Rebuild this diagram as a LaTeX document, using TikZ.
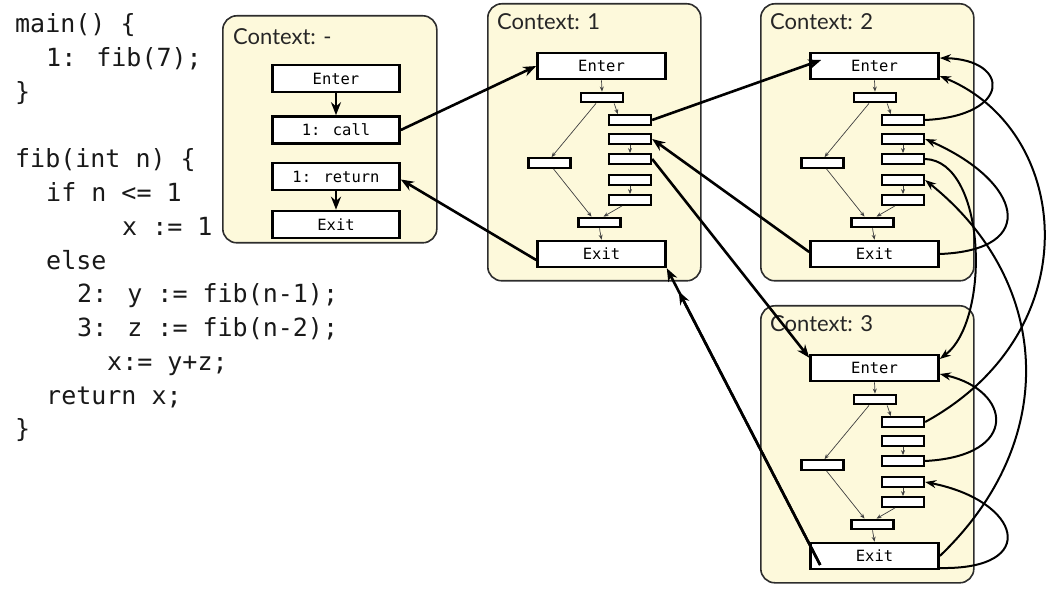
\documentclass[tikz,border=0pt]{standalone}
\usepackage{fontspec}
\newfontfamily\codefont{DejaVu Sans Mono}
\newfontfamily\titlefont{Lato}
\usetikzlibrary{arrows.meta}
\definecolor{ctxfill}{RGB}{253,249,219}
\definecolor{ctxdraw}{RGB}{45,45,45}
\tikzset{
  ctxbox/.style={draw=ctxdraw, line width=1.6pt, fill=ctxfill, rounded corners=14pt, inner sep=0, anchor=north west},
  ctxtitle/.style={anchor=west, inner sep=0, text=black!85, font=\titlefont\fontsize{22}{24}\selectfont},
  bignode/.style={draw=black, line width=2.6pt, fill=white, minimum width=128pt, minimum height=26pt, inner sep=0, font=\codefont\fontsize{15.5}{17}\selectfont},
  smallnode/.style={draw=black, line width=2.3pt, fill=white, minimum width=42pt, minimum height=9.5pt, inner sep=0},
  code/.style={anchor=base west, inner sep=0, text=black!90, font=\codefont\fontsize{25}{30}\selectfont},
  bigarrow/.style={line width=2.6pt, -{Stealth[length=13pt,width=10pt]}},
  curvearrow/.style={line width=2pt, -{Stealth[length=11pt,width=8pt]}},
  thinarrow/.style={line width=0.7pt, draw=black!75, -{Stealth[length=5pt,width=4pt]}},
}
\newcommand\fibctx[4]{%
  \begin{scope}[shift={(#2,#3)}]
    \node[ctxbox, minimum width=213pt, minimum height=277pt] (#1box) at (0,0) {};
    \node[ctxtitle] (#1title) at (10,19) {#4};
    \node[bignode] (#1enter) at (114.5,63) {Enter};
    \node[smallnode] (#1top) at (115,94.5) {};
    \node[smallnode] (#1c1) at (143,117) {};
    \node[smallnode] (#1c2) at (143,136) {};
    \node[smallnode] (#1c3) at (143,156) {};
    \node[smallnode] (#1c4) at (143,177) {};
    \node[smallnode] (#1c5) at (143,197) {};
    \node[smallnode] (#1left) at (62.5,160) {};
    \node[smallnode] (#1bot) at (112.5,219.5) {};
    \node[bignode] (#1exit) at (114.5,251) {Exit};
    \draw[thinarrow] (#1enter.south) -- (#1top.north);
    \draw[thinarrow] ([xshift=-10pt]#1top.south east) -- ([xshift=10pt]#1c1.north west);
    \draw[thinarrow] ([xshift=-6pt]#1top.south) -- ([xshift=2pt]#1left.north);
    \draw[thinarrow] ([xshift=4pt]#1left.south) -- ([xshift=-8pt]#1bot.north);
    \draw[thinarrow] (#1c2.south) -- (#1c3.north);
    \draw[thinarrow] (#1c4.south) -- (#1c5.north);
    \draw[thinarrow] ([xshift=-8pt]#1c5.south) -- ([xshift=4pt]#1bot.north);
    \draw[thinarrow] (#1bot.south) -- (#1exit.north);
  \end{scope}}
\begin{document}
\begin{tikzpicture}[x=1pt, y=-1pt]
  \useasboundingbox (0,0) rectangle (1055,593);
  % code
  \node[code] (l1) at (15,33) {main() \{};
  \node[code] (l2) at (46,66.75) {1: fib(7);};
  \node[code] (l3) at (15,100.5) {\}};
  \node[code] (l4) at (15,168) {fib(int n) \{};
  \node[code] (l5) at (46,201.75) {if n <= 1};
  \node[code] (l6) at (122,235.5) {x := 1};
  \node[code] (l7) at (46,269.25) {else};
  \node[code] (l8) at (77,303) {2: y := fib(n-1);};
  \node[code] (l9) at (77,336.75) {3: z := fib(n-2);};
  \node[code] (l10) at (107,370.5) {x:= y+z;};
  \node[code] (l11) at (46,404.25) {return x;};
  \node[code] (l12) at (15,438) {\}};
  % context -
  \node[ctxbox, minimum width=214pt, minimum height=227pt] (x0box) at (222,15) {};
  \node[ctxtitle] (x0title) at (233,37) {Context: -};
  \node[bignode, minimum width=127pt, minimum height=27pt] (x0enter) at (336,78.5) {Enter};
  \node[bignode, minimum width=127pt, minimum height=27pt] (x0call) at (336,130) {1: call};
  \node[bignode, minimum width=127pt, minimum height=27pt] (x0ret) at (336,176.5) {1: return};
  \node[bignode, minimum width=127pt, minimum height=27pt] (x0exit) at (336,224.5) {Exit};
  \draw[bigarrow] (x0enter) -- (x0call);
  \draw[bigarrow] (x0ret) -- (x0exit);
  % contexts 1..3
  \fibctx{x1}{487}{3}{Context: 1}
  \fibctx{x2}{760}{3}{Context: 2}
  \fibctx{x3}{760}{305}{Context: 3}
  % straight interprocedural edges
  \draw[bigarrow] (x0call.east) -- (x1enter.west);
  \draw[bigarrow] ([yshift=-6pt]x1exit.west) -- ([yshift=-3pt]x0ret.east);
  \draw[bigarrow] (x1c1.east) -- ([xshift=12pt,yshift=6pt]x2enter.west);
  \draw[bigarrow] ([yshift=2pt]x2exit.west) -- (x1c2.east);
  \draw[bigarrow] (x1c3.east) -- ([yshift=-4pt]x3enter.north west);
  \draw[bigarrow] ([xshift=11pt,yshift=-9pt]x3exit.west) -- (x1exit.south east);
  \draw[bigarrow, shorten >=26pt] ([xshift=11pt,yshift=-9pt]x3exit.west) -- (x1exit.south east);
  % curved edges on the right
  \draw[curvearrow] (x2c1.east) .. controls +(86,-4) and +(71.5,2) .. ([yshift=8pt]x2enter.east);
  \draw[curvearrow] (x3c1.east) .. controls +(166,-91) and +(131.5,54) .. ([yshift=-10pt]x2enter.east);
  \draw[curvearrow] (x2exit.east) .. controls +(101.5,-4) and +(96,42) .. (x2c2.east);
  \draw[curvearrow] (x2c3.east) .. controls +(61,2) and +(51.5,-39) .. ([yshift=9pt]x3enter.east);
  \draw[curvearrow] (x3exit.east) .. controls +(121.5,-116) and +(126,101) .. (x2c4.east);
  \draw[curvearrow] (x3c3.east) .. controls +(96,-5) and +(71.5,16) .. ([yshift=-6pt]x3enter.east);
  \draw[curvearrow] ([yshift=-12pt]x3exit.east) .. controls +(101.5,2) and +(96,19) .. (x3c4.east);
\end{tikzpicture}
\end{document}
